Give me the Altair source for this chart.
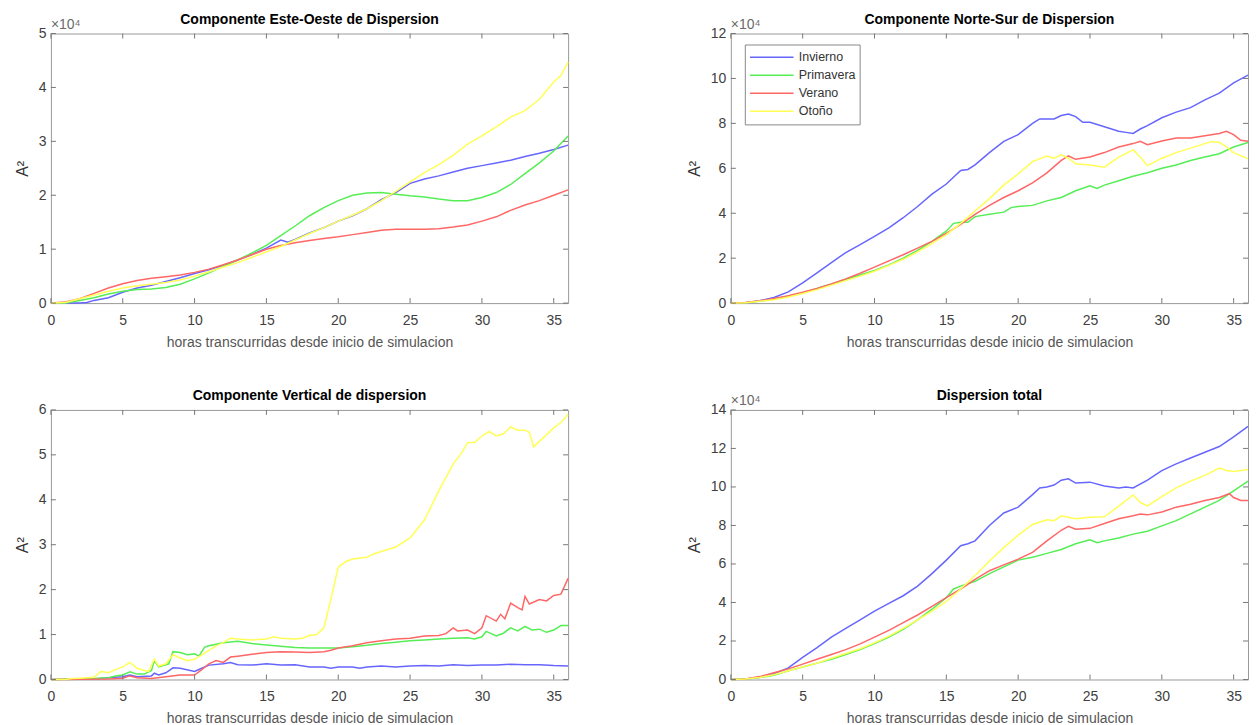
import altair as alt
import pandas as pd

SERIES = ["Invierno", "Primavera", "Verano", "Otoño"]
COLORS = ["#6666ff", "#55ee55", "#ff6666", "#ffff55"]

X_TICKS = [0, 5, 10, 15, 20, 25, 30, 35]
X_LABEL = "horas transcurridas desde inicio de simulacion"

# ---- Componente Este-Oeste (x 1e4) ----
EO_INVIERNO = [(0,0),(1,0),(2,0),(2.5,0.01),(3,0.05),(4,0.1),(5,0.2),(6,0.28),(7,0.33),(8,0.4),(9,0.47),(10,0.55),(11,0.62),(12,0.7),(13,0.8),(14,0.9),(15,1.02),(16,1.17),(16.5,1.13),(17,1.18),(18,1.3),(19,1.4),(20,1.52),(21,1.62),(22,1.75),(23,1.92),(24,2.05),(25,2.22),(26,2.3),(27,2.36),(28,2.43),(29,2.5),(30,2.55),(31,2.6),(32,2.65),(33,2.72),(34,2.78),(35,2.85),(36,2.93)]
EO_PRIMAVERA = [(0,0),(1,0),(2,0.05),(3,0.1),(4,0.17),(5,0.22),(6,0.25),(7,0.26),(8,0.29),(9,0.35),(10,0.45),(11,0.56),(12,0.68),(13,0.8),(14,0.93),(15,1.07),(16,1.25),(17,1.43),(18,1.62),(19,1.77),(20,1.9),(21,2.0),(22,2.04),(23,2.05),(24,2.02),(25,1.99),(26,1.97),(27,1.93),(28,1.9),(29,1.9),(30,1.96),(31,2.05),(32,2.2),(33,2.4),(34,2.6),(35,2.82),(36,3.1)]
EO_VERANO = [(0,0),(1,0.02),(2,0.08),(3,0.18),(4,0.28),(5,0.36),(6,0.42),(7,0.46),(8,0.49),(9,0.52),(10,0.57),(11,0.63),(12,0.71),(13,0.8),(14,0.9),(15,1.0),(16,1.07),(17,1.12),(18,1.16),(19,1.2),(20,1.23),(21,1.27),(22,1.31),(23,1.35),(24,1.37),(25,1.37),(26,1.37),(27,1.38),(28,1.41),(29,1.45),(30,1.52),(31,1.6),(32,1.72),(33,1.82),(34,1.9),(35,2.0),(36,2.1)]
EO_OTONO = [(0,0),(1,0.01),(2,0.08),(3,0.15),(4,0.22),(5,0.28),(6,0.32),(7,0.35),(8,0.38),(9,0.43),(10,0.5),(11,0.58),(12,0.67),(13,0.75),(14,0.85),(15,0.95),(16,1.05),(17,1.17),(18,1.29),(19,1.4),(20,1.52),(21,1.63),(22,1.75),(23,1.9),(24,2.07),(25,2.25),(26,2.42),(27,2.57),(28,2.74),(29,2.95),(30,3.1),(31,3.27),(32,3.45),(33,3.57),(34,3.78),(35,4.1),(35.5,4.22),(36,4.47)]

# ---- Componente Norte-Sur (x 1e4) ----
NS_INVIERNO = [(0,0),(1,0.02),(2,0.1),(3,0.25),(4,0.5),(5,0.9),(6,1.35),(7,1.8),(8,2.25),(9,2.6),(10,2.97),(11,3.35),(12,3.8),(13,4.3),(14,4.85),(15,5.3),(16,5.9),(16.5,5.95),(17,6.15),(18,6.7),(19,7.2),(20,7.5),(21,8.0),(21.5,8.2),(22,8.2),(22.5,8.2),(23,8.35),(23.5,8.42),(24,8.3),(24.5,8.05),(25,8.05),(26,7.85),(27,7.65),(27.5,7.6),(28,7.55),(28.5,7.75),(29,7.9),(30,8.25),(31,8.5),(32,8.7),(33,9.05),(34,9.35),(35,9.8),(36,10.15)]
NS_PRIMAVERA = [(0,0),(1,0.02),(2,0.08),(3,0.18),(4,0.3),(5,0.45),(6,0.65),(7,0.85),(8,1.05),(9,1.25),(10,1.45),(11,1.7),(12,2.0),(13,2.35),(14,2.75),(15,3.2),(15.5,3.55),(16,3.6),(16.5,3.6),(17,3.85),(18,3.95),(19,4.05),(19.5,4.25),(20,4.3),(21,4.35),(22,4.55),(23,4.7),(24,5.0),(25,5.22),(25.5,5.1),(26,5.25),(27,5.45),(28,5.65),(29,5.8),(30,6.0),(31,6.15),(32,6.35),(33,6.5),(34,6.65),(35,6.95),(36,7.15)]
NS_VERANO = [(0,0),(1,0.03),(2,0.1),(3,0.2),(4,0.33),(5,0.48),(6,0.65),(7,0.85),(8,1.08),(9,1.33),(10,1.6),(11,1.88),(12,2.15),(13,2.45),(14,2.75),(15,3.1),(16,3.5),(17,3.95),(18,4.35),(19,4.7),(20,5.0),(21,5.35),(22,5.8),(23,6.35),(23.5,6.55),(24,6.4),(25,6.5),(26,6.7),(27,6.95),(28,7.1),(28.5,7.2),(29,7.05),(30,7.22),(31,7.35),(32,7.35),(33,7.45),(34,7.55),(34.5,7.65),(35,7.5),(35.5,7.25),(36,7.2)]
NS_OTONO = [(0,0),(1,0.02),(2,0.08),(3,0.15),(4,0.27),(5,0.43),(6,0.6),(7,0.8),(8,1.0),(9,1.2),(10,1.42),(11,1.68),(12,1.95),(13,2.28),(14,2.65),(15,3.05),(16,3.55),(17,4.1),(18,4.65),(19,5.25),(20,5.75),(21,6.3),(22,6.55),(22.5,6.45),(23,6.6),(23.5,6.45),(24,6.2),(25,6.15),(26,6.05),(27,6.5),(28,6.82),(28.5,6.5),(29,6.12),(30,6.45),(31,6.7),(32,6.9),(33,7.1),(33.5,7.19),(34,7.15),(34.5,6.95),(35,6.7),(36,6.42)]

# ---- Componente Vertical ----
VE_INVIERNO = [(0,0),(3,0.01),(4,0.04),(5,0.06),(5.5,0.1),(6,0.06),(7,0.08),(7.2,0.14),(7.5,0.1),(8,0.15),(8.5,0.26),(9,0.25),(10,0.18),(10.5,0.25),(11,0.32),(12,0.35),(12.5,0.38),(13,0.33),(14,0.32),(15,0.35),(16,0.32),(17,0.33),(18,0.28),(19,0.28),(19.5,0.25),(20,0.28),(21,0.28),(21.5,0.25),(22,0.28),(23,0.3),(24,0.28),(25,0.3),(26,0.31),(27,0.3),(28,0.33),(29,0.31),(30,0.32),(31,0.32),(32,0.34),(33,0.33),(34,0.33),(35,0.31),(36,0.3)]
VE_PRIMAVERA = [(0,0),(3,0.02),(4,0.04),(4.5,0.08),(5,0.1),(5.5,0.17),(6,0.12),(6.5,0.12),(7,0.2),(7.2,0.42),(7.5,0.28),(8,0.33),(8.2,0.35),(8.5,0.62),(9,0.6),(9.5,0.55),(10,0.57),(10.3,0.52),(10.7,0.72),(11,0.75),(12,0.82),(13,0.85),(14,0.8),(15,0.77),(16,0.74),(17,0.71),(18,0.7),(19,0.7),(20,0.7),(21,0.73),(22,0.76),(23,0.8),(24,0.83),(25,0.86),(26,0.88),(27,0.9),(28,0.92),(29,0.93),(29.5,0.9),(30,0.95),(30.3,1.07),(31,0.97),(31.5,1.03),(32,1.15),(32.5,1.08),(33,1.18),(33.5,1.1),(34,1.12),(34.5,1.05),(35,1.1),(35.5,1.2),(36,1.2)]
VE_VERANO = [(0,0),(4,0.01),(5,0.03),(5.5,0.08),(6,0.04),(7,0.02),(8,0.06),(9,0.1),(10,0.1),(10.5,0.22),(11,0.35),(11.5,0.42),(12,0.38),(12.5,0.5),(13,0.52),(14,0.56),(15,0.6),(16,0.62),(17,0.61),(18,0.6),(19,0.62),(19.5,0.65),(20,0.7),(21,0.75),(22,0.82),(23,0.86),(24,0.9),(25,0.92),(26,0.97),(27,0.98),(27.5,1.02),(28,1.15),(28.3,1.08),(29,1.1),(29.5,1.02),(30,1.15),(30.3,1.42),(31,1.3),(31.3,1.45),(31.6,1.35),(32,1.7),(32.5,1.6),(32.8,1.55),(33,1.85),(33.3,1.68),(34,1.78),(34.5,1.75),(35,1.87),(35.5,1.9),(36,2.25)]
VE_OTONO = [(0,0),(1,0),(1.5,0.02),(2,0.03),(3,0.05),(3.5,0.18),(4,0.15),(4.5,0.22),(5,0.28),(5.5,0.38),(6,0.25),(6.5,0.2),(6.8,0.18),(7.2,0.45),(7.5,0.3),(8,0.35),(8.5,0.55),(9,0.48),(9.5,0.42),(10,0.45),(10.5,0.55),(11,0.65),(11.5,0.75),(12,0.82),(12.5,0.92),(13,0.9),(14,0.88),(15,0.9),(15.5,0.95),(16,0.92),(17,0.9),(17.5,0.92),(18,0.98),(18.5,1.0),(19,1.15),(19.5,1.8),(20,2.5),(20.5,2.62),(21,2.68),(22,2.72),(22.5,2.8),(23,2.85),(24,2.95),(25,3.15),(26,3.55),(27,4.2),(28,4.8),(28.5,5.0),(29,5.27),(29.5,5.28),(30,5.42),(30.5,5.52),(31,5.42),(31.5,5.47),(32,5.62),(32.5,5.55),(33,5.55),(33.3,5.5),(33.6,5.18),(34,5.3),(34.5,5.45),(35,5.6),(35.5,5.72),(36,5.9)]

# ---- Dispersion total (x 1e4) ----
TO_INVIERNO = [(0,0),(1,0.02),(2,0.1),(3,0.3),(4,0.6),(5,1.15),(6,1.65),(7,2.2),(8,2.65),(9,3.1),(10,3.55),(11,3.95),(12,4.35),(13,4.85),(14,5.5),(15,6.2),(16,6.95),(16.5,7.05),(17,7.2),(18,8.0),(19,8.65),(20,8.95),(21,9.6),(21.5,9.95),(22,10.0),(22.5,10.1),(23,10.35),(23.5,10.42),(24,10.2),(25,10.25),(26,10.05),(27,9.95),(27.5,10.0),(28,9.95),(29,10.35),(30,10.85),(31,11.2),(32,11.5),(33,11.8),(34,12.1),(35,12.6),(36,13.15)]
TO_PRIMAVERA = [(0,0),(1,0.02),(2,0.1),(3,0.22),(4,0.45),(5,0.65),(6,0.85),(7,1.05),(8,1.3),(9,1.55),(10,1.86),(11,2.2),(12,2.6),(13,3.1),(14,3.65),(15,4.25),(15.5,4.7),(16,4.85),(17,5.1),(18,5.5),(19,5.85),(20,6.2),(21,6.35),(22,6.55),(23,6.75),(24,7.05),(25,7.25),(25.5,7.1),(26,7.2),(27,7.35),(28,7.55),(29,7.7),(30,7.98),(31,8.25),(32,8.6),(33,8.95),(34,9.3),(35,9.8),(36,10.3)]
TO_VERANO = [(0,0),(1,0.03),(2,0.15),(3,0.35),(4,0.55),(5,0.8),(6,1.05),(7,1.3),(8,1.55),(9,1.85),(10,2.2),(11,2.55),(12,2.95),(13,3.35),(14,3.8),(15,4.25),(16,4.7),(17,5.2),(18,5.65),(19,5.95),(20,6.25),(21,6.6),(22,7.2),(23,7.75),(23.5,7.95),(24,7.8),(25,7.85),(26,8.1),(27,8.35),(28,8.5),(28.5,8.6),(29,8.55),(30,8.7),(31,8.95),(32,9.1),(33,9.3),(34,9.45),(34.7,9.65),(35,9.45),(35.5,9.3),(36,9.3)]
TO_OTONO = [(0,0),(1,0.02),(2,0.1),(3,0.25),(4,0.45),(5,0.65),(6,0.85),(7,1.1),(8,1.35),(9,1.6),(10,1.9),(11,2.25),(12,2.65),(13,3.1),(14,3.55),(15,4.05),(16,4.7),(17,5.4),(18,6.15),(19,6.85),(20,7.5),(21,8.05),(22,8.3),(22.5,8.25),(23,8.5),(24,8.35),(25,8.42),(26,8.45),(27,9.0),(28,9.58),(28.5,9.2),(29,9.02),(30,9.5),(31,9.95),(32,10.3),(33,10.6),(34,10.98),(34.5,10.85),(35,10.8),(36,10.9)]

PANELS = [
    dict(title="Componente Este-Oeste de Dispersion", series=[EO_INVIERNO, EO_PRIMAVERA, EO_VERANO, EO_OTONO],
         ymax=5, yticks=[0, 1, 2, 3, 4, 5], mult=True, legend=False, toff=-9),
    dict(title="Componente Norte-Sur de Dispersion", series=[NS_INVIERNO, NS_PRIMAVERA, NS_VERANO, NS_OTONO],
         ymax=12, yticks=[0, 2, 4, 6, 8, 10, 12], mult=True, legend=True, toff=-9),
    dict(title="Componente Vertical de dispersion", series=[VE_INVIERNO, VE_PRIMAVERA, VE_VERANO, VE_OTONO],
         ymax=6, yticks=[0, 1, 2, 3, 4, 5, 6], mult=False, legend=False, toff=0),
    dict(title="Dispersion total", series=[TO_INVIERNO, TO_PRIMAVERA, TO_VERANO, TO_OTONO],
         ymax=14, yticks=[0, 2, 4, 6, 8, 10, 12, 14], mult=True, legend=False, toff=-9),
]

W = 518
H = 270
FONT = "Liberation Sans"
BOX = "#9a9a9a"
TICKC = "#777777"
TICKLEN = 5


def x_axis():
    return alt.Axis(values=X_TICKS, title=X_LABEL, grid=False, domain=False, ticks=False,
                    tickSize=0, labelPadding=10, labelFontSize=14, labelFont=FONT,
                    labelColor="#404040", titleFont=FONT, titleFontSize=14,
                    titleFontWeight="normal", titleColor="#555555", titlePadding=8,
                    labelFlush=False)


def y_axis(vals):
    return alt.Axis(values=vals, title="A²", grid=False, domain=False, ticks=False,
                    tickSize=0, labelPadding=5, labelFontSize=14, labelFont=FONT,
                    labelColor="#404040", titleFont=FONT, titleFontSize=16,
                    titleFontWeight="normal", titleColor="#333333", titlePadding=8,
                    labelFlush=False)


def panel(p):
    rows = []
    for name, pts in zip(SERIES, p["series"]):
        for x, y in pts:
            rows.append({"hora": x, "valor": y, "estacion": name})
    df = pd.DataFrame(rows)
    xs = alt.Scale(domain=[0, 36], nice=False, zero=False)
    ys = alt.Scale(domain=[0, p["ymax"]], nice=False)

    if p["legend"]:
        leg = alt.Legend(title=None, orient="none", legendX=14, legendY=11,
                         symbolType="stroke", symbolSize=1900, symbolStrokeWidth=1.5,
                         clipHeight=17.5, labelFontSize=12.5, labelFont=FONT, labelColor="#333333",
                         padding=4, strokeColor="#888888", fillColor="white", rowPadding=0,
                         labelOffset=4, columnPadding=0)
    else:
        leg = None

    lines = alt.Chart(df).mark_line(strokeWidth=1.5).encode(
        x=alt.X("hora:Q", scale=xs, axis=x_axis(), title=X_LABEL),
        y=alt.Y("valor:Q", scale=ys, axis=y_axis(p["yticks"]), title="A²"),
        color=alt.Color("estacion:N", scale=alt.Scale(domain=SERIES, range=COLORS),
                        legend=leg, sort=SERIES),
        order=alt.Order("hora:Q"),
    )

    xt = pd.DataFrame({"v": X_TICKS})
    yt = pd.DataFrame({"v": p["yticks"]})
    bx = alt.X("v:Q", scale=xs, axis=x_axis(), title=X_LABEL)
    by = alt.Y("v:Q", scale=ys, axis=y_axis(p["yticks"]), title="A²")
    ticks_bottom = alt.Chart(xt).mark_rule(color=TICKC, strokeWidth=1).encode(
        x=bx, y=alt.value(H), y2=alt.value(H - TICKLEN))
    ticks_top = alt.Chart(xt).mark_rule(color=TICKC, strokeWidth=1).encode(
        x=bx, y=alt.value(0), y2=alt.value(TICKLEN))
    ticks_left = alt.Chart(yt).mark_rule(color=TICKC, strokeWidth=1).encode(
        y=by, x=alt.value(0), x2=alt.value(TICKLEN))
    ticks_right = alt.Chart(yt).mark_rule(color=TICKC, strokeWidth=1).encode(
        y=by, x=alt.value(W - TICKLEN), x2=alt.value(W))

    layers = [lines, ticks_bottom, ticks_top, ticks_left, ticks_right]
    if p["mult"]:
        mt = alt.Chart(pd.DataFrame({"t": ["×10⁴"]})).mark_text(
            align="left", baseline="alphabetic", font=FONT, fontSize=14, color="#6a6a6a"
        ).encode(x=alt.value(0), y=alt.value(-5), text="t:N")
        layers.append(mt)

    return alt.layer(*layers).properties(
        width=W, height=H,
        title=alt.TitleParams(p["title"], font=FONT, fontSize=14, fontWeight="bold", color="#000000",
                              anchor="middle", frame="group", offset=p["toff"]),
    )


chart = alt.concat(*[panel(p) for p in PANELS], columns=2, spacing={"row": 107, "column": 163},
                   bounds="flush").resolve_scale(color="independent").configure_view(
    stroke=BOX, strokeWidth=1).properties(
    padding={"left": 13, "top": 11, "right": 5, "bottom": 0}, background="white")

chart.save("out.html", embed_options={"renderer": "svg", "actions": False})
